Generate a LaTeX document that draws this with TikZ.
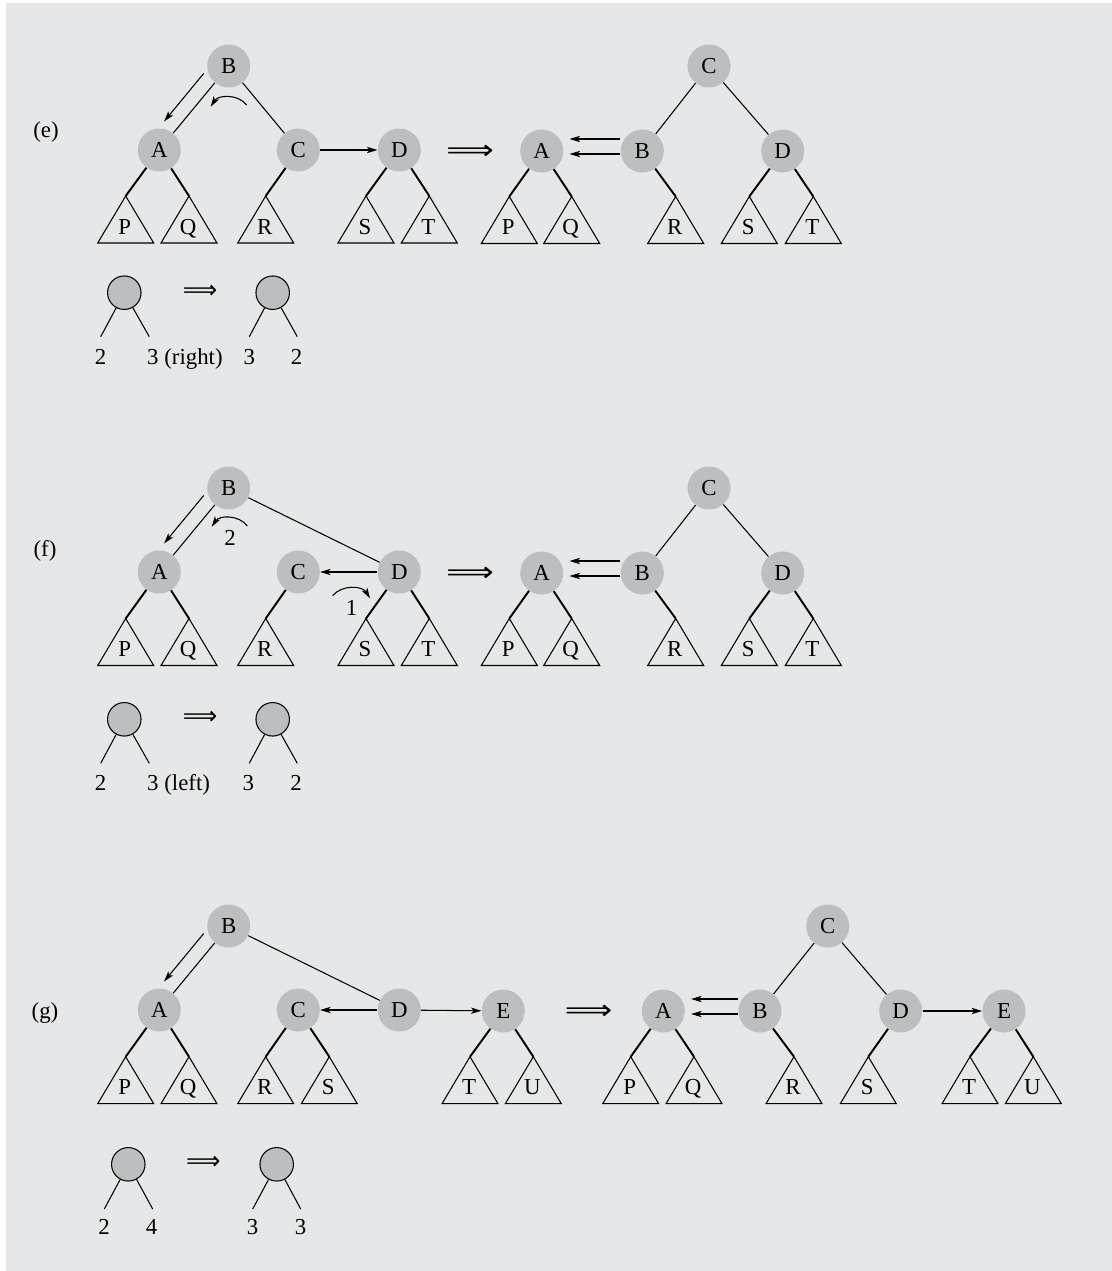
\documentclass[tikz,border=0pt]{standalone}
\usepackage{fontspec}
\setmainfont{Liberation Serif}
\newfontfamily\symfont{DejaVu Sans}
\usepackage{graphicx}
\usetikzlibrary{calc,arrows.meta}
\definecolor{panelgray}{RGB}{230,231,232}
\definecolor{nodegray}{RGB}{188,190,192}

\begin{document}
\begin{tikzpicture}[x=0.02cm,y=-0.02cm,
  font=\fontsize{13}{15}\selectfont,
  vtx/.style={circle,fill=nodegray,minimum size=0.86cm,inner sep=0pt},
  leaf/.style={circle,draw,fill=nodegray,line width=0.6pt,minimum size=0.67cm,inner sep=0pt},
  edge/.style={line width=0.6pt},
  kid/.style={line width=1.1pt},
  arr/.style={line width=0.6pt,-{Stealth[length=6pt,width=3.6pt,inset=1.6pt]}},
  bigimp/.style={font=\symfont\fontsize{13}{15}\selectfont},
  subtree/.pic={
    \draw[line width=0.6pt] (0,0) -- (-28,47) -- (28,47) -- cycle;
    \node[anchor=base] at (-1,38) {#1};
  }]
  \useasboundingbox (0,0) rectangle (1112,1271);
  \fill[panelgray] (6,3) rectangle (1112,1271);

  % ----- panel (e) -----
  \node (elab) at (46,132) {(e)};
  % before
  \node[vtx] (eB) at (228.7,66) {B};
  \node[vtx] (eA) at (159.3,150) {A};
  \node[vtx] (eC) at (298.3,150) {C};
  \node[vtx] (eD) at (399.3,150) {D};
  \foreach \n/\x in {P/125.7,Q/189,R/265.7,S/366,T/429.3}
    {\coordinate (e\n) at (\x,196); \pic at (e\n) {subtree=\n};}
  \draw[edge] (eB) -- (eA);
  \draw[edge] (eB) -- (eC);
  \draw[kid] (eA) -- (eP);
  \draw[kid] (eA) -- (eQ);
  \draw[kid] (eC) -- (eR);
  \draw[kid] (eD) -- (eS);
  \draw[kid] (eD) -- (eT);
  \draw[arr] (eC) -- (eD);
  \draw[arr] ($(eB)!0.2!(eA)!0.29cm!-90:(eA)$) -- ($(eA)!0.23!(eB)!0.29cm!90:(eB)$);
  \coordinate (erot0) at (246.7,105);
  \coordinate (erot1) at (210.7,106.7);
  \draw[arr] (erot0) to[bend right=55] (erot1);
  \node[bigimp] (eimp) at (470,152) {\scalebox{1.45}[1.2]{⟹}};
  % after
  \node[vtx] (eC2) at (709,66) {C};
  \node[vtx] (eA2) at (541.7,151) {A};
  \node[vtx] (eB2) at (642.3,151) {B};
  \node[vtx] (eD2) at (782.7,151) {D};
  \foreach \n/\x in {P/509.3,Q/571.7,R/675.7,S/749.3,T/813.3}
    {\coordinate (e\n2) at (\x,196.5); \pic at (e\n2) {subtree=\n};}
  \draw[edge] (eC2) -- (eB2);
  \draw[edge] (eC2) -- (eD2);
  \draw[kid] (eA2) -- (eP2);
  \draw[kid] (eA2) -- (eQ2);
  \draw[kid] (eB2) -- (eR2);
  \draw[kid] (eD2) -- (eS2);
  \draw[kid] (eD2) -- (eT2);
  \draw[arr] ($(eB2.west)+(0,-12)$) -- ($(eA2.east)+(6,-12)$);
  \draw[arr] ($(eB2.west)+(0,3)$) -- ($(eA2.east)+(6,3)$);
  % balance
  \node[leaf] (el1) at (124.3,292.7) {};
  \coordinate (el1l) at (100.7,336.7);
  \coordinate (el1r) at (149.3,336.7);
  \draw[edge] (el1) -- (el1l);
  \draw[edge] (el1) -- (el1r);
  \node[anchor=base] (el1a) at (100.7,364) {2};
  \node[anchor=base west] (el1b) at (141,364) {3 (right)};
  \node[bigimp] (elimp) at (200,291.7) {\scalebox{1.05}[1.1]{⟹}};
  \node[leaf] (el2) at (272.7,292.7) {};
  \coordinate (el2l) at (249.3,336.7);
  \coordinate (el2r) at (297.3,336.7);
  \draw[edge] (el2) -- (el2l);
  \draw[edge] (el2) -- (el2r);
  \node[anchor=base] (el2a) at (249.3,364) {3};
  \node[anchor=base] (el2b) at (296.7,364) {2};

  % ----- panel (f) -----
  \node (flab) at (45,551) {(f)};
  % before
  \node[vtx] (fB) at (228.7,488) {B};
  \node[vtx] (fA) at (159.3,572) {A};
  \node[vtx] (fC) at (298.3,572) {C};
  \node[vtx] (fD) at (399.3,572) {D};
  \foreach \n/\x in {P/125.7,Q/189,R/265.7,S/366,T/429.3}
    {\coordinate (f\n) at (\x,618.5); \pic at (f\n) {subtree=\n};}
  \draw[edge] (fB) -- (fA);
  \draw[edge] (fB) -- (fD);
  \draw[kid] (fA) -- (fP);
  \draw[kid] (fA) -- (fQ);
  \draw[kid] (fC) -- (fR);
  \draw[kid] (fD) -- (fS);
  \draw[kid] (fD) -- (fT);
  \draw[arr] (fD) -- (fC);
  \draw[arr] ($(fB)!0.2!(fA)!0.29cm!-90:(fA)$) -- ($(fA)!0.23!(fB)!0.29cm!90:(fB)$);
  \coordinate (frot0) at (247.3,526);
  \coordinate (frot1) at (211.7,526.7);
  \draw[arr] (frot0) to[bend right=55] (frot1);
  \node (fstep2) at (230,538) {2};
  \coordinate (frot2) at (332.7,595.7);
  \coordinate (frot3) at (370,598.3);
  \draw[arr] (frot2) to[bend left=55] (frot3);
  \node (fstep1) at (351.7,608) {1};
  \node[bigimp] (fimp) at (470,574) {\scalebox{1.45}[1.2]{⟹}};
  % after
  \node[vtx] (fC2) at (709,488) {C};
  \node[vtx] (fA2) at (541.7,573) {A};
  \node[vtx] (fB2) at (642.3,573) {B};
  \node[vtx] (fD2) at (782.7,573) {D};
  \foreach \n/\x in {P/509.3,Q/571.7,R/675.7,S/749.3,T/813.3}
    {\coordinate (f\n2) at (\x,618.5); \pic at (f\n2) {subtree=\n};}
  \draw[edge] (fC2) -- (fB2);
  \draw[edge] (fC2) -- (fD2);
  \draw[kid] (fA2) -- (fP2);
  \draw[kid] (fA2) -- (fQ2);
  \draw[kid] (fB2) -- (fR2);
  \draw[kid] (fD2) -- (fS2);
  \draw[kid] (fD2) -- (fT2);
  \draw[arr] ($(fB2.west)+(0,-12)$) -- ($(fA2.east)+(6,-12)$);
  \draw[arr] ($(fB2.west)+(0,3)$) -- ($(fA2.east)+(6,3)$);
  % balance
  \node[leaf] (fl1) at (124.3,719.3) {};
  \coordinate (fl1l) at (100.7,763.3);
  \coordinate (fl1r) at (149.3,763.3);
  \draw[edge] (fl1) -- (fl1l);
  \draw[edge] (fl1) -- (fl1r);
  \node[anchor=base] (fl1a) at (100.7,790.7) {2};
  \node[anchor=base west] (fl1b) at (141,790.7) {3 (left)};
  \node[bigimp] (flimp) at (200,718.3) {\scalebox{1.05}[1.1]{⟹}};
  \node[leaf] (fl2) at (272.7,719.3) {};
  \coordinate (fl2l) at (249.3,763.3);
  \coordinate (fl2r) at (297.3,763.3);
  \draw[edge] (fl2) -- (fl2l);
  \draw[edge] (fl2) -- (fl2r);
  \node[anchor=base] (fl2a) at (248.3,790.7) {3};
  \node[anchor=base] (fl2b) at (296,790.7) {2};

  % ----- panel (g) -----
  \node (glab) at (45,1013) {(g)};
  % before
  \node[vtx] (gB) at (228.7,926) {B};
  \node[vtx] (gA) at (159.3,1010) {A};
  \node[vtx] (gC) at (298.3,1010) {C};
  \node[vtx] (gD) at (399.3,1010) {D};
  \node[vtx] (gE) at (503.3,1011) {E};
  \foreach \n/\x in {P/125.7,Q/189,R/265.7,S/329.3,T/470,U/533.3}
    {\coordinate (g\n) at (\x,1056.7); \pic at (g\n) {subtree=\n};}
  \draw[edge] (gB) -- (gA);
  \draw[edge] (gB) -- (gD);
  \draw[kid] (gA) -- (gP);
  \draw[kid] (gA) -- (gQ);
  \draw[kid] (gC) -- (gR);
  \draw[kid] (gC) -- (gS);
  \draw[kid] (gE) -- (gT);
  \draw[kid] (gE) -- (gU);
  \draw[arr] (gD) -- (gC);
  \draw[arr] (gD) -- (gE);
  \draw[arr] ($(gB)!0.2!(gA)!0.29cm!-90:(gA)$) -- ($(gA)!0.23!(gB)!0.29cm!90:(gB)$);
  \node[bigimp] (gimp) at (588.7,1012) {\scalebox{1.45}[1.2]{⟹}};
  % after
  \node[vtx] (gC2) at (827.7,926) {C};
  \node[vtx] (gA2) at (663.3,1011) {A};
  \node[vtx] (gB2) at (760,1011) {B};
  \node[vtx] (gD2) at (900.7,1011) {D};
  \node[vtx] (gE2) at (1004,1011) {E};
  \foreach \n/\x in {P/630.7,Q/694,R/794,S/868.3,T/970,U/1033.3}
    {\coordinate (g\n2) at (\x,1056.7); \pic at (g\n2) {subtree=\n};}
  \draw[edge] (gC2) -- (gB2);
  \draw[edge] (gC2) -- (gD2);
  \draw[kid] (gA2) -- (gP2);
  \draw[kid] (gA2) -- (gQ2);
  \draw[kid] (gB2) -- (gR2);
  \draw[kid] (gD2) -- (gS2);
  \draw[kid] (gE2) -- (gT2);
  \draw[kid] (gE2) -- (gU2);
  \draw[arr] ($(gB2.west)+(0,-12)$) -- ($(gA2.east)+(6,-12)$);
  \draw[arr] ($(gB2.west)+(0,3)$) -- ($(gA2.east)+(6,3)$);
  \draw[arr] (gD2) -- (gE2);
  % balance
  \node[leaf] (gl1) at (128.3,1164.3) {};
  \coordinate (gl1l) at (104.3,1209);
  \coordinate (gl1r) at (152.7,1209);
  \draw[edge] (gl1) -- (gl1l);
  \draw[edge] (gl1) -- (gl1r);
  \node[anchor=base] (gl1a) at (104,1234) {2};
  \node[anchor=base] (gl1b) at (151.7,1234) {4};
  \node[bigimp] (glimp) at (203.3,1163.3) {\scalebox{1.05}[1.1]{⟹}};
  \node[leaf] (gl2) at (276.7,1164.3) {};
  \coordinate (gl2l) at (252.7,1209);
  \coordinate (gl2r) at (300.7,1209);
  \draw[edge] (gl2) -- (gl2l);
  \draw[edge] (gl2) -- (gl2r);
  \node[anchor=base] (gl2a) at (252.7,1234) {3};
  \node[anchor=base] (gl2b) at (300.7,1234) {3};
\end{tikzpicture}
\end{document}
